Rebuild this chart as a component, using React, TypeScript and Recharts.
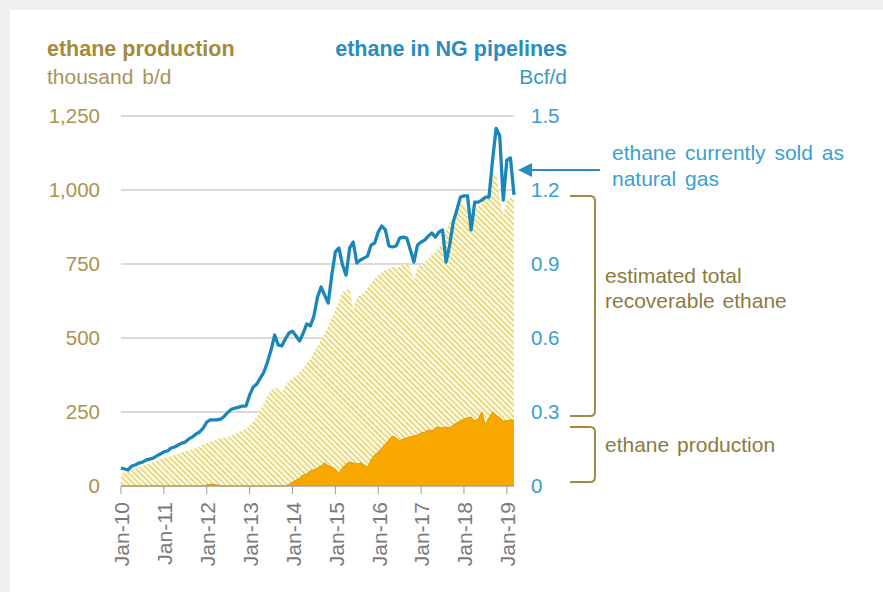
import { ComposedChart, Area, Line, XAxis, YAxis, CartesianGrid } from "recharts";

// monthly, Jan-2010 .. Mar-2019 (index 0..110)
// ethane in NG pipelines, Bcf/d
const pipelineEthane = [
  0.073, 0.069, 0.065, 0.081, 0.085, 0.093, 0.097, 0.105, 0.109, 0.113, 0.122, 0.13,
  0.138, 0.142, 0.154, 0.158, 0.166, 0.174, 0.178, 0.191, 0.199, 0.211, 0.219, 0.235,
  0.259, 0.268, 0.268, 0.268, 0.272, 0.284, 0.3, 0.312, 0.316, 0.32, 0.324, 0.324,
  0.369, 0.401, 0.413, 0.438, 0.462, 0.503, 0.551, 0.612, 0.572, 0.568, 0.596, 0.62,
  0.628, 0.608, 0.588, 0.62, 0.657, 0.649, 0.689, 0.766, 0.807, 0.774, 0.742, 0.855,
  0.949, 0.965, 0.896, 0.855, 0.965, 0.989, 0.904, 0.916, 0.924, 0.932, 0.977, 0.985,
  1.03, 1.054, 1.038, 0.973, 0.969, 0.973, 1.005, 1.009, 1.005, 0.957, 0.908, 0.977,
  0.989, 0.997, 1.013, 1.026, 1.009, 1.03, 1.038, 0.908, 0.977, 1.07, 1.119, 1.171,
  1.176, 1.176, 1.038, 1.151, 1.151, 1.159, 1.171, 1.171, 1.321, 1.45, 1.42, 1.159,
  1.321, 1.33, 1.18,
];

// estimated total recoverable ethane, thousand b/d
const recoverableEthane = [
  44, 46, 50, 54, 58, 63, 68, 72, 76, 81, 85, 90,
  95, 98, 101, 105, 110, 114, 118, 121, 124, 128, 134, 140,
  145, 150, 154, 159, 161, 164, 166, 171, 176, 182, 188, 193,
  205, 218, 234, 257, 280, 305, 324, 331, 331, 318, 341, 352,
  365, 372, 385, 399, 415, 432, 453, 472, 495, 517, 540, 568,
  595, 625, 655, 662, 669, 595, 635, 645, 652, 668, 686, 700,
  713, 722, 730, 735, 740, 738, 740, 748, 753, 735, 696, 740,
  748, 757, 768, 780, 792, 804, 831, 865, 892, 909, 935, 966,
  950, 932, 865, 932, 945, 956, 973, 1000, 1041, 1061, 966, 916,
  966, 975, 966,
];

// ethane production, thousand b/d
const ethaneProduction = [
  0, 0, 0, 0, 0, 0, 0, 0, 0, 0, 0, 0,
  0, 0, 0, 0, 0, 0, 0, 0, 0, 0, 0, 0,
  4, 6, 5, 3, 0, 0, 0, 0, 0, 0, 0, 0,
  0, 0, 0, 0, 0, 0, 0, 0, 0, 0, 0, 5,
  14, 20, 27, 37, 41, 51, 54, 61, 68, 78, 68, 64,
  57, 44, 61, 74, 81, 78, 74, 78, 71, 64, 88, 105,
  115, 128, 142, 155, 169, 162, 152, 159, 162, 166, 169, 172,
  179, 182, 189, 186, 196, 199, 196, 199, 196, 206, 213, 220,
  226, 230, 233, 220, 226, 250, 206, 230, 250, 240, 230, 220,
  220, 223, 223,
];

const yearLabels = ["Jan-10", "Jan-11", "Jan-12", "Jan-13", "Jan-14", "Jan-15", "Jan-16", "Jan-17", "Jan-18", "Jan-19"];
const leftTicks = [0, 250, 500, 750, 1000, 1250];
const rightTicks = [0, 0.3, 0.6, 0.9, 1.2, 1.5];

const data = pipelineEthane.map((p, i) => ({
  m: i,
  pipeline: p,
  recoverable: recoverableEthane[i],
  production: ethaneProduction[i],
}));

const FONT = '"Liberation Sans", Arial, sans-serif';
const GOLD = "#ad9350";
const BLUE = "#3a9dcf";

function MonthTick({ x, y, payload }: any) {
  const label = yearLabels[Math.round(payload.value / 12)];
  return (
    <text
      x={x + 1}
      y={y + 6}
      transform={`rotate(-90, ${x + 1}, ${y + 6})`}
      textAnchor="end"
      dy="0.35em"
      fill="#7a7a7a"
      fontSize={21}
      fontFamily={FONT}
    >
      {label}
    </text>
  );
}

export default function App() {
  return (
    <div style={{ position: "fixed", left: 0, top: 0, width: 883, height: 592, background: "#efefef" }}>
      <div style={{ position: "absolute", left: 10, top: 10, right: 0, bottom: 0, background: "#fff" }} />
      <div style={{ position: "absolute", left: 0, top: 0 }}>
        <ComposedChart
          width={883}
          height={592}
          data={data}
          margin={{ top: 116, right: 309, bottom: 16, left: 61 }}
        >
          <defs>
            <pattern id="hatch" width="4" height="4" patternUnits="userSpaceOnUse" patternTransform="rotate(-45)">
              <rect width="4" height="4" fill="#fdf8d6" />
              <line x1="0" y1="0" x2="0" y2="4" stroke="#d3c054" strokeWidth={1.8} />
            </pattern>
          </defs>
          <CartesianGrid yAxisId="left" vertical={false} stroke="#b5b5b5" />
          <XAxis
            dataKey="m"
            type="number"
            domain={[0, 110]}
            ticks={[0, 12, 24, 36, 48, 60, 72, 84, 96, 108]}
            height={90}
            stroke="#999"
            tickSize={8}
            tick={<MonthTick />}
          />
          <YAxis
            yAxisId="left"
            orientation="left"
            width={60}
            domain={[0, 1250]}
            ticks={leftTicks}
            axisLine={false}
            tickLine={false}
            tickSize={0}
            tickMargin={21}
            tickFormatter={(v: number) => v.toLocaleString("en-US")}
            tick={{ fill: GOLD, fontSize: 20.5, fontFamily: FONT }}
          />
          <YAxis
            yAxisId="right"
            orientation="right"
            width={60}
            domain={[0, 1.5]}
            ticks={rightTicks}
            axisLine={false}
            tickLine={false}
            tickSize={0}
            tickMargin={17}
            tick={{ fill: BLUE, fontSize: 20.5, fontFamily: FONT, textAnchor: "start" }}
          />
          <Area
            yAxisId="left"
            type="linear"
            dataKey="recoverable"
            stroke="none"
            fill="url(#hatch)"
            fillOpacity={1}
            isAnimationActive={false}
          />
          <Area
            yAxisId="left"
            type="linear"
            dataKey="production"
            stroke="#d99a0a"
            strokeWidth={1}
            fill="#f8a800"
            fillOpacity={1}
            isAnimationActive={false}
          />
          <Line
            yAxisId="right"
            type="linear"
            dataKey="pipeline"
            stroke="#1b86b8"
            strokeWidth={3.3}
            strokeLinejoin="round"
            dot={false}
            activeDot={false}
            isAnimationActive={false}
          />
        </ComposedChart>
      </div>
      <svg
        width={883}
        height={592}
        style={{ position: "absolute", left: 0, top: 0, pointerEvents: "none" }}
        fontFamily={FONT}
      >
        <text x={47} y={56} fontSize={21.5} fontWeight="bold" fill="#a58a3a">ethane production</text>
        <text x={47} y={84} fontSize={21} fill="#a8925a" wordSpacing={3}>thousand b/d</text>
        <text x={567} y={56} fontSize={21.5} fontWeight="bold" fill="#2a8cbf" textAnchor="end">ethane in NG pipelines</text>
        <text x={567} y={84} fontSize={21} fill="#3a98c9" textAnchor="end">Bcf/d</text>

        <line x1={600} y1={170} x2={528} y2={170} stroke="#2a8cbf" strokeWidth={2} />
        <polygon points="518,170 532,163 532,177" fill="#2a8cbf" />
        <text x={612} y={160} fontSize={21} fill="#3aa0d2" wordSpacing={3}>ethane currently sold as</text>
        <text x={612} y={186} fontSize={21} fill="#3aa0d2" wordSpacing={3}>natural gas</text>

        <path d="M570 196 L590 196 Q595 196 595 201 L595 411 Q595 416 590 416 L570 416" stroke="#a08a48" strokeWidth={2} fill="none" />
        <path d="M570 427 L590 427 Q595 427 595 432 L595 477 Q595 482 590 482 L570 482" stroke="#a08a48" strokeWidth={2} fill="none" />
        <text x={605} y={283} fontSize={21} fill="#8c7b3e">estimated total</text>
        <text x={605} y={308} fontSize={21} fill="#8c7b3e" wordSpacing={2}>recoverable ethane</text>
        <text x={605} y={452} fontSize={21} fill="#8c7b3e" wordSpacing={2}>ethane production</text>
      </svg>
    </div>
  );
}
